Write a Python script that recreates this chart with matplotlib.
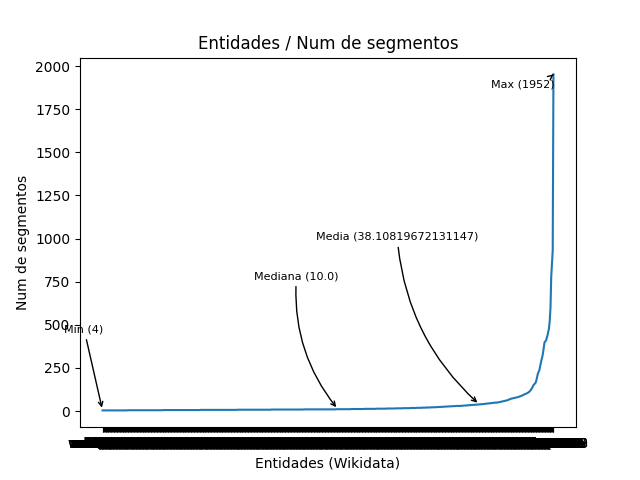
import numpy as np
import matplotlib
matplotlib.use("Agg")
from matplotlib import pyplot as plt

# numero de segmentos por entidad (ordenado de menor a mayor)
# parte baja: valor y cuantas entidades lo tienen
valores_bajos = [4, 5, 6, 7, 8, 9, 10, 11, 12, 13, 14, 15, 16, 17, 18, 19, 20,
                 21, 22, 23, 24, 25, 26, 27, 28, 29, 30]
repeticiones = [34, 48, 50, 50, 46, 44, 44, 20, 18, 16, 14, 12, 10, 10, 8, 8, 6,
                6, 6, 4, 4, 4, 4, 4, 4, 4, 4]
segmentos_medios = [
    30, 30, 30, 31, 31, 31, 32, 32, 32, 33,
    33, 33, 34, 34, 34, 35, 35, 35, 36, 36,
    36, 37, 37, 37, 38, 38, 38, 39, 39, 40,
    40, 40, 41, 41, 42, 42, 43, 43, 44, 44,
    45, 45, 46, 46, 47, 47, 48, 48, 49, 49,
    49, 50, 50, 51,
]
segmentos_altos = [
    52, 53, 54, 55, 56, 57, 58, 59, 60, 61,
    62, 63, 65, 67, 69, 70, 72, 73, 74, 75,
    76, 77, 78, 79, 80, 81, 83, 84, 86, 87,
    89, 91, 93, 95, 97, 99, 101, 103, 105, 108,
    111, 115, 120, 126, 133, 141, 150, 155, 160, 165,
    180, 200, 218, 228, 238, 260, 280, 300, 315, 340,
    370, 400, 404, 410, 425, 440, 460, 480, 525, 600,
    780, 860, 930, 1952,
]
segmentos = [int(v) for v in np.repeat(valores_bajos, repeticiones)]
segmentos = segmentos + segmentos_medios + segmentos_altos

# identificadores de las entidades (ilegibles en el original)
entidades = [f"wd:Q{1000 + i}" for i in range(len(segmentos))]

plt.figure(figsize=(6.4, 4.8), dpi=100)
plt.plot(entidades, segmentos)
plt.title("Entidades / Num de segmentos")
plt.xlabel("Entidades (Wikidata)")
plt.ylabel("Num de segmentos")

flecha = dict(arrowstyle="->", connectionstyle="arc3,rad=0.2", color="black")
recta = dict(arrowstyle="->", connectionstyle="arc3,rad=0", color="black")
n = len(segmentos)
plt.annotate(f"Min ({min(segmentos)})", xy=(0, min(segmentos)), xytext=(-25, 475),
             ha="center", va="center", fontsize=8, arrowprops=recta)
plt.annotate(f"Mediana ({np.median(segmentos)})", xy=(318, np.median(segmentos)),
             xytext=(262, 783), ha="center", va="center", fontsize=8, arrowprops=flecha)
plt.annotate(f"Media ({np.mean(segmentos)})", xy=(509, np.mean(segmentos)),
             xytext=(398, 1010), ha="center", va="center", fontsize=8, arrowprops=flecha)
plt.annotate(f"Max ({max(segmentos)})", xy=(n - 1, max(segmentos)), xytext=(568, 1896),
             ha="center", va="center", fontsize=8, arrowprops=flecha)

plt.savefig("out.png")
